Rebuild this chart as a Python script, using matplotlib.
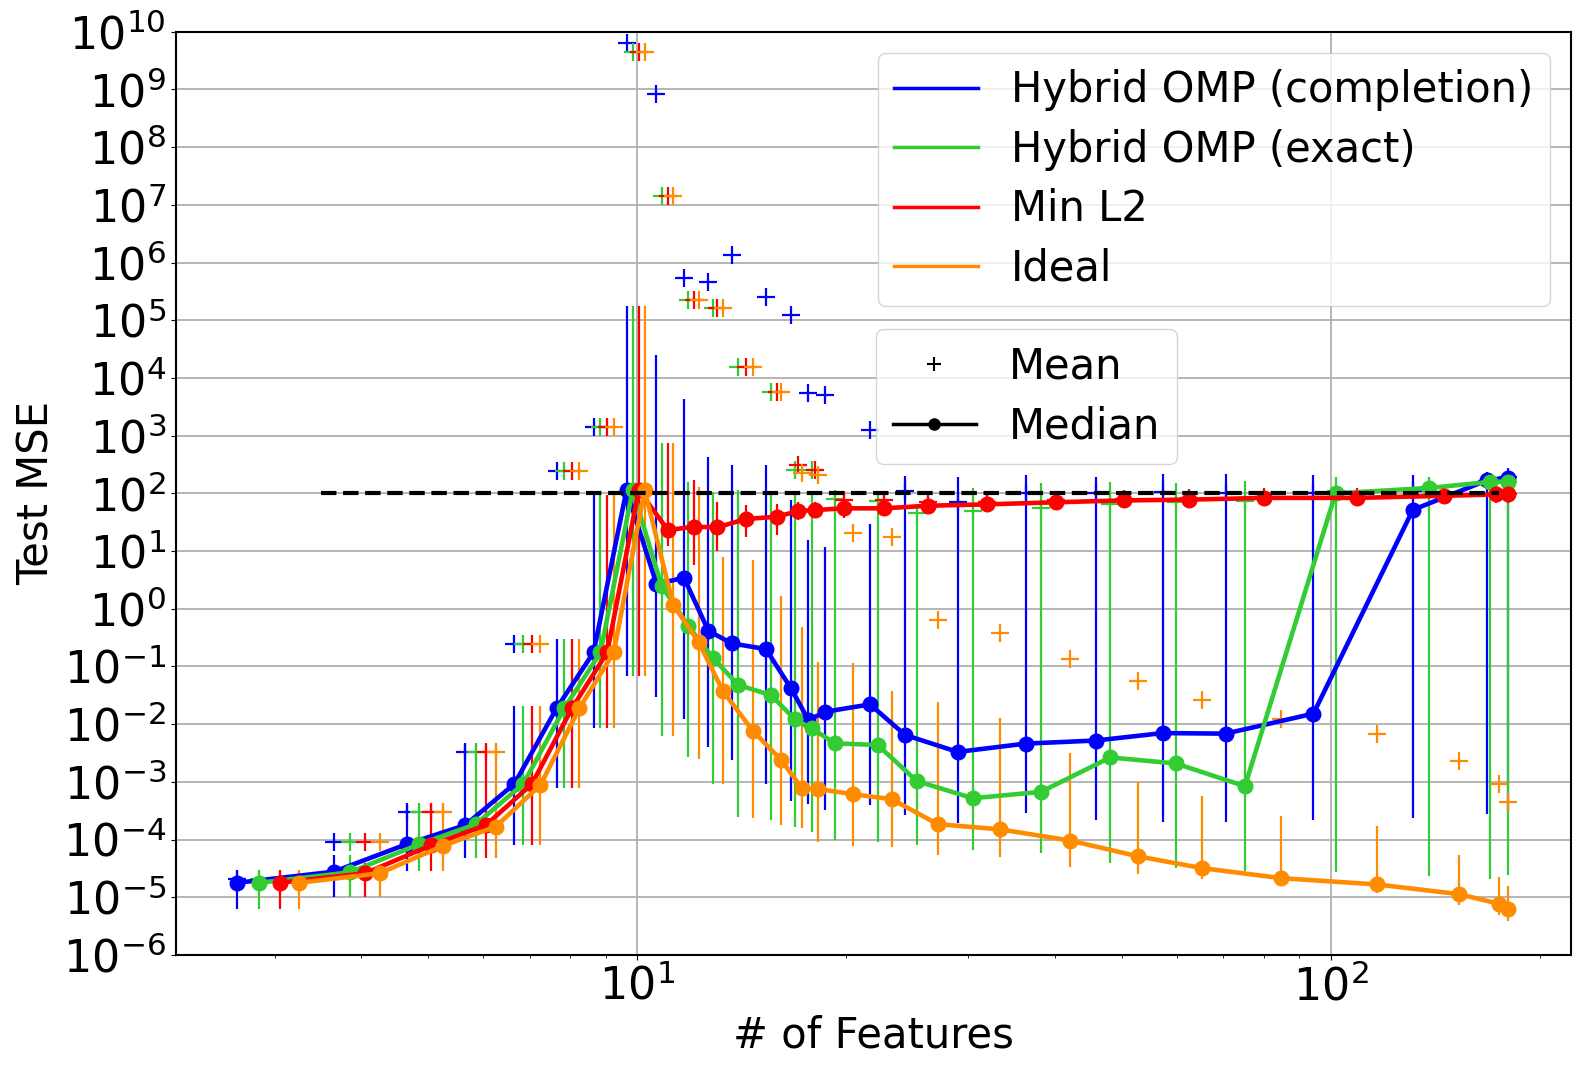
import matplotlib
matplotlib.use("Agg")
import numpy as np
import matplotlib.pyplot as plt
from matplotlib.lines import Line2D
from matplotlib.ticker import LogLocator, NullLocator

plt.rcParams['font.size'] = 28

# x positions (# of features), each method shifted a little so bars don't overlap
x_completion = [2.65, 3.65, 4.65, 5.65, 6.65, 7.65, 8.65, 9.65,
                10.66, 11.68, 12.66, 13.68, 15.33, 16.66, 17.65, 18.67, 21.66, 24.33,
                28.97, 36.3, 45.8, 57.2, 70.5, 94.4, 131.3, 167.9, 179.9]
x_exact = [2.85, 3.85, 4.85, 5.85, 6.85, 7.85, 8.85, 9.85,
           10.84, 11.85, 12.87, 13.99, 15.59, 16.88, 17.84, 19.28, 22.22, 25.3,
           30.46, 38.2, 48.1, 59.8, 75.2, 101.6, 138.7, 169.8, 179.9]
x_minl2 = [3.05, 4.05, 5.05, 6.05, 7.05, 8.05, 9.05, 10.05,
           11.07, 12.07, 13.03, 14.35, 15.9, 17.05, 18.05, 19.87, 22.69, 26.26,
           31.94, 40.1, 50.4, 62.5, 80.1, 109.1, 145.5, 172.8, 179.9]
x_ideal = [3.25, 4.25, 5.25, 6.25, 7.25, 8.25, 9.25, 10.25,
           11.27, 12.27, 13.28, 14.67, 16.13, 17.28, 18.24, 20.49, 23.28, 27.12,
           33.36, 42.1, 52.8, 65.2, 84.9, 116.4, 153.2, 174.8, 179.9]

# medians
med_completion = [1.78e-5, 2.77e-5, 8.3e-5, 1.78e-4, 9.2e-4, 0.0188, 0.175, 114,
                  2.68, 3.44, 0.416, 0.251, 0.2, 0.0418, 0.0118, 0.0164, 0.022, 6.5e-3,
                  3.3e-3, 4.6e-3, 5.2e-3, 7.0e-3, 6.85e-3, 0.0152, 51.6, 168, 188]
med_exact = [1.78e-5, 2.7e-5, 8.3e-5, 1.84e-4, 9.2e-4, 0.0188, 0.175, 114,
             2.5, 0.5, 0.138, 0.0476, 0.0319, 0.0121, 8.45e-3, 4.65e-3, 4.35e-3, 1.03e-3,
             5.2e-4, 6.7e-4, 2.65e-3, 2.08e-3, 8.4e-4, 100, 124, 158, 160]
med_minl2 = [1.78e-5, 2.6e-5, 8.0e-5, 1.78e-4, 9.2e-4, 0.0188, 0.175, 114,
             23.1, 26.4, 25.7, 35.9, 39.4, 49.3, 51.4, 55, 55, 61,
             64.4, 70, 75.5, 77.8, 83.4, 83.4, 90.6, 95.7, 95.7]
med_ideal = [1.78e-5, 2.6e-5, 7.8e-5, 1.67e-4, 8.8e-4, 0.0188, 0.175, 114,
             1.16, 0.262, 0.038, 7.7e-3, 2.39e-3, 7.7e-4, 7.5e-4, 6.1e-4, 5.0e-4, 1.85e-4,
             1.5e-4, 9.6e-5, 5.1e-5, 3.2e-5, 2.14e-5, 1.67e-5, 1.13e-5, 7.7e-6, 6.2e-6]

# lower / upper ends of the spread bars
lo_completion = [6.3e-6, 1.0e-5, 2.8e-5, 4.7e-5, 8e-5, 7.7e-4, 8.5e-3, 0.069,
                 0.029, 0.0121, 4.05e-3, 2.4e-3, 9.2e-4, 4.7e-4, 4.1e-4, 3.2e-4, 4e-4, 2.7e-4,
                 1.9e-4, 2.9e-4, 2.2e-4, 2e-4, 2e-4, 2.2e-4, 2.4e-4, 2.8e-4, 3e-4]
hi_completion = [2.9e-5, 5.4e-5, 4e-4, 4.6e-3, 0.021, 0.3, 93, 1.8e5,
                 2.5e4, 4.4e3, 421, 309, 309, 76.6, 15.5, 11.9, 30, 200,
                 195, 208, 190, 215, 220, 208, 210, 200, 200]
lo_exact = [6.3e-6, 1.0e-5, 2.8e-5, 4.7e-5, 8e-5, 7.7e-4, 8.5e-3, 0.069,
            6.2e-3, 2.66e-3, 9.3e-4, 2.5e-4, 2.2e-4, 1.67e-4, 1.36e-4, 9.8e-5, 9.1e-5, 8e-5,
            6.6e-5, 5.8e-5, 4e-5, 3.2e-5, 2.9e-5, 2.7e-5, 2.3e-5, 2.05e-5, 2.4e-5]
hi_exact = [2.9e-5, 5.4e-5, 4e-4, 4.6e-3, 0.021, 0.3, 93, 1.8e5,
            735, 158, 107, 115, 93, 93, 93, 77, 82, 45,
            123, 153, 158, 150, 165, 190, 190, 170, 170]
lo_minl2 = [6.3e-6, 1.0e-5, 2.8e-5, 4.7e-5, 8e-5, 7.7e-4, 8.5e-3, 0.069,
            12, 5.8, 10, 17.6, 18.6, 35, 37, 37, 40, 45,
            50, 55, 60, 62, 68, 68, 75, 80, 80]
hi_minl2 = [2.9e-5, 4e-5, 4e-4, 4.6e-3, 0.021, 0.3, 93, 1.8e5,
            735, 173, 72, 62, 66, 72, 72, 100, 95, 90,
            95, 100, 100, 100, 105, 105, 110, 110, 110]
lo_ideal = [6.3e-6, 1.0e-5, 2.8e-5, 4.7e-5, 8e-5, 7.7e-4, 8.5e-3, 0.069,
            6.2e-3, 2.5e-3, 9.1e-4, 2.4e-4, 1.8e-4, 1.56e-4, 9.1e-5, 7.7e-5, 7.3e-5, 5.4e-5,
            4.9e-5, 3.4e-5, 2.5e-5, 2.1e-5, 1.6e-5, 1.17e-5, 7.2e-6, 4.9e-6, 3.8e-6]
hi_ideal = [2.9e-5, 3e-5, 4e-4, 4.6e-3, 0.021, 0.3, 93, 1.8e5,
            735, 130, 7.8, 7, 1.66, 0.48, 0.12, 0.116, 0.038, 0.0245,
            0.0126, 3.1e-3, 1e-3, 5.7e-4, 2.6e-4, 1.7e-4, 5.5e-5, 2.2e-5, 1.55e-5]

# means
mean_completion = [2.1e-5, 9e-5, 2.95e-4, 3.3e-3, 0.244, 244, 1426, 6.4e9,
                   8.2e8, 5.5e5, 4.65e5, 1.35e6, 2.55e5, 1.23e5, 5.4e3, 5.06e3, 1.26e3, 108,
                   70, 100, 100, 105, 100, 100, 110, 165, 190]
mean_exact = [2.1e-5, 9e-5, 2.95e-4, 3.3e-3, 0.244, 244, 1426, 4.5e9,
              1.44e7, 2.24e5, 1.6e5, 1.56e4, 5.8e3, 254, 254, 80, 75, 46.5,
              50, 56, 65.8, 70, 75, 110, 130, 160, 160]
mean_minl2 = [2.1e-5, 9e-5, 2.95e-4, 3.3e-3, 0.244, 244, 1426, 4.5e9,
              1.44e7, 2.24e5, 1.6e5, 1.56e4, 5.8e3, 309, 254, 76, 76, 70,
              72, 78, 80, 82, 88, 88, 93, 98, 98]
mean_ideal = [2.1e-5, 9e-5, 2.95e-4, 3.3e-3, 0.244, 244, 1426, 4.5e9,
              1.44e7, 2.24e5, 1.6e5, 1.56e4, 5.8e3, 222, 209, 20.7, 17.7, 0.64,
              0.374, 0.133, 0.057, 0.026, 0.0123, 6.8e-3, 2.3e-3, 9e-4, 4.5e-4]

labels = ['Hybrid OMP (completion)', 'Hybrid OMP (exact)', 'Min L2', 'Ideal']
colors = ['#0000ff', '#33cc33', '#ff0000', '#ff8c00']
noise_level = 100
noise_x = [3.5, 175]

series = [
    (x_completion, med_completion, lo_completion, hi_completion, mean_completion),
    (x_exact, med_exact, lo_exact, hi_exact, mean_exact),
    (x_minl2, med_minl2, lo_minl2, hi_minl2, mean_minl2),
    (x_ideal, med_ideal, lo_ideal, hi_ideal, mean_ideal),
]

fig, ax = plt.subplots(figsize=(15.94, 10.76), dpi=100)
fig.subplots_adjust(left=0.1102, right=0.9854, top=0.9705, bottom=0.1125)

for (x, med, lo, hi, mean), c in zip(series, colors):
    med = np.array(med)
    yerr = [med - np.array(lo), np.array(hi) - med]
    ax.errorbar(x, med, yerr=yerr, fmt='-o', color=c, lw=3.3, ms=10.5,
                elinewidth=1.6, capsize=0)
    ax.plot(x, mean, '+', color=c, ms=13, mew=1.6, ls='none')

ax.plot(noise_x, [noise_level, noise_level], 'k--', lw=3, zorder=5)

ax.set_xscale('log')
ax.set_yscale('log')
ax.set_xlim(2.16, 221.8)
ax.set_ylim(1e-6, 1e10)
ax.yaxis.set_major_locator(LogLocator(base=10, numticks=20))
ax.yaxis.set_minor_locator(NullLocator())
ax.tick_params(axis='both', which='major', labelsize=32)
ax.grid(True, which='major', color='#b0b0b0', lw=1.3)
ax.set_axisbelow(True)
for s in ax.spines.values():
    s.set_linewidth(1.5)

ax.set_xlabel('# of Features', fontsize=30)
ax.set_ylabel('Test MSE', fontsize=30)

h1 = [Line2D([], [], color=c, lw=2.5) for c in colors]
leg1 = ax.legend(h1, labels, loc='upper right', fontsize=30, labelspacing=0.42)
ax.add_artist(leg1)
h2 = [Line2D([], [], color='k', marker='+', ls='none', ms=10, mew=1.5),
      Line2D([], [], color='k', marker='o', lw=2.5, ms=8)]
ax.legend(h2, ['Mean', 'Median'], loc='upper left', bbox_to_anchor=(0.502, 0.678),
          borderaxespad=0, fontsize=30, labelspacing=0.42)

fig.savefig('out.png', dpi=100)
